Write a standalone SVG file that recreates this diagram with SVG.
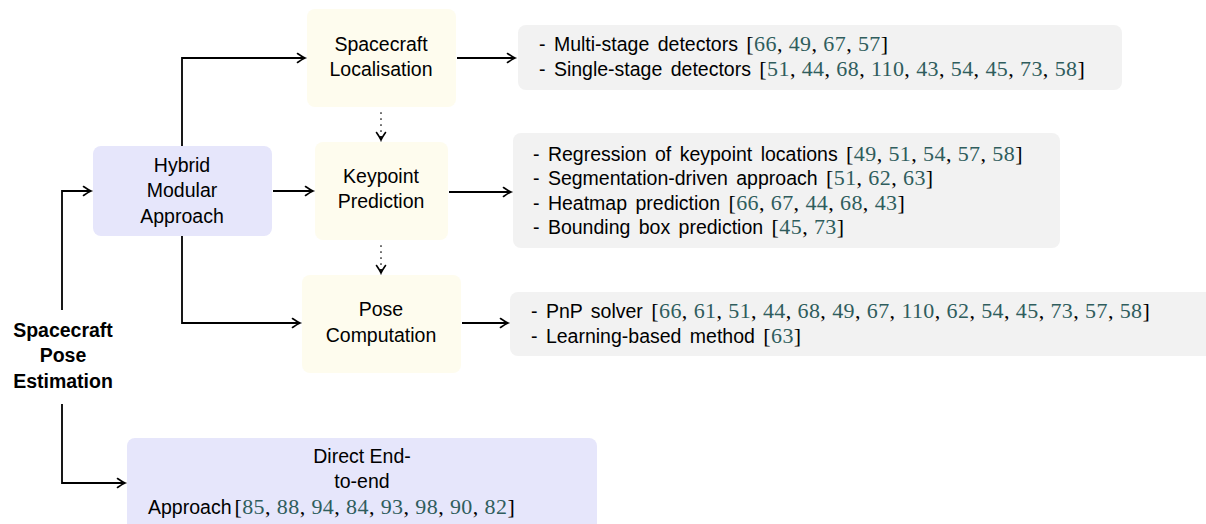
<svg xmlns="http://www.w3.org/2000/svg" width="1206" height="524" viewBox="0 0 1206 524">
  <style>
    .hyb { fill: #e6e6fb; }
    .stage { fill: #fefcee; }
    .list { fill: #f2f2f2; }
    .t { font-family: "Liberation Sans", Arial, sans-serif; font-size: 19.5px; fill: #000; }
    .li { word-spacing: 3px; }
    .tb { font-family: "Liberation Sans", Arial, sans-serif; font-size: 19.5px; font-weight: bold; fill: #000; }
    .c { font-family: "Liberation Serif", "Times New Roman", serif; font-size: 22px; letter-spacing: 0.4px; word-spacing: 0; fill: #000; }
    .n { fill: #2f5d5d; }
    .edge { fill: none; stroke: #000; stroke-width: 1.8; }
    .dot { fill: none; stroke: #000; stroke-width: 1.7; stroke-linecap: round; stroke-dasharray: 0 6; }
  </style>
  <defs>
    <marker id="arr" markerUnits="userSpaceOnUse" markerWidth="14" markerHeight="14" viewBox="-10 -7 14 14" refX="0" refY="0" orient="auto">
      <path d="M-7.5,-4.5 Q-2.5,-1 0,0 Q-2.5,1 -7.5,4.5" fill="none" stroke="#000" stroke-width="1.6" stroke-linecap="round"/>
    </marker>
  </defs>

  <rect width="1206" height="524" fill="#fff"/>

  <!-- connectors -->
  <g id="connectors">
    <path class="edge" d="M62,310 V191 H91" marker-end="url(#arr)"/>
    <path class="edge" d="M62,404 V483 H125" marker-end="url(#arr)"/>
    <path class="edge" d="M182,146 V58 H305" marker-end="url(#arr)"/>
    <path class="edge" d="M273,191 H313" marker-end="url(#arr)"/>
    <path class="edge" d="M182,236 V323 H300" marker-end="url(#arr)"/>
    <path class="edge" d="M457,58 H515" marker-end="url(#arr)"/>
    <path class="edge" d="M449,192 H511" marker-end="url(#arr)"/>
    <path class="edge" d="M462,323 H508" marker-end="url(#arr)"/>
    <path class="dot" d="M381,113 V136"/>
    <path class="edge" d="M381,136 V140" marker-end="url(#arr)"/>
    <path class="dot" d="M381,246 V269"/>
    <path class="edge" d="M381,269 V273" marker-end="url(#arr)"/>
  </g>

  <!-- root label -->
  <g id="root">
    <text class="tb" text-anchor="middle" x="63" y="337">Spacecraft</text>
    <text class="tb" text-anchor="middle" x="63" y="362">Pose</text>
    <text class="tb" text-anchor="middle" x="63" y="388">Estimation</text>
  </g>

  <g id="hybrid">
    <rect class="hyb" x="93" y="146" width="179" height="90" rx="8"/>
    <text class="t" text-anchor="middle" x="182" y="172">Hybrid</text>
    <text class="t" text-anchor="middle" x="182" y="197">Modular</text>
    <text class="t" text-anchor="middle" x="182" y="223">Approach</text>
  </g>

  <g id="localisation">
    <rect class="stage" x="307" y="9" width="149" height="98" rx="8"/>
    <text class="t" text-anchor="middle" x="381" y="51">Spacecraft</text>
    <text class="t" text-anchor="middle" x="381" y="76">Localisation</text>
  </g>

  <g id="keypoint">
    <rect class="stage" x="315" y="142" width="133" height="98" rx="8"/>
    <text class="t" text-anchor="middle" x="381" y="183">Keypoint</text>
    <text class="t" text-anchor="middle" x="381" y="208">Prediction</text>
  </g>

  <g id="pose">
    <rect class="stage" x="302" y="275" width="159" height="98" rx="8"/>
    <text class="t" text-anchor="middle" x="381" y="316">Pose</text>
    <text class="t" text-anchor="middle" x="381" y="342">Computation</text>
  </g>

  <g id="localisation-list">
    <rect class="list" x="518" y="25" width="604" height="65" rx="8"/>
    <text class="t li" x="539" y="51">- Multi-stage detectors <tspan class="c">[<tspan class="n">66</tspan>, <tspan class="n">49</tspan>, <tspan class="n">67</tspan>, <tspan class="n">57</tspan>]</tspan></text>
    <text class="t li" x="539" y="76">- Single-stage detectors <tspan class="c">[<tspan class="n">51</tspan>, <tspan class="n">44</tspan>, <tspan class="n">68</tspan>, <tspan class="n">110</tspan>, <tspan class="n">43</tspan>, <tspan class="n">54</tspan>, <tspan class="n">45</tspan>, <tspan class="n">73</tspan>, <tspan class="n">58</tspan>]</tspan></text>
  </g>

  <g id="keypoint-list">
    <rect class="list" x="513" y="133" width="547" height="115" rx="8"/>
    <text class="t li" x="533" y="161">- Regression of keypoint locations <tspan class="c">[<tspan class="n">49</tspan>, <tspan class="n">51</tspan>, <tspan class="n">54</tspan>, <tspan class="n">57</tspan>, <tspan class="n">58</tspan>]</tspan></text>
    <text class="t li" x="533" y="185">- Segmentation-driven approach <tspan class="c">[<tspan class="n">51</tspan>, <tspan class="n">62</tspan>, <tspan class="n">63</tspan>]</tspan></text>
    <text class="t li" x="533" y="210">- Heatmap prediction <tspan class="c">[<tspan class="n">66</tspan>, <tspan class="n">67</tspan>, <tspan class="n">44</tspan>, <tspan class="n">68</tspan>, <tspan class="n">43</tspan>]</tspan></text>
    <text class="t li" x="533" y="234">- Bounding box prediction <tspan class="c">[<tspan class="n">45</tspan>, <tspan class="n">73</tspan>]</tspan></text>
  </g>

  <g id="pose-list">
    <rect class="list" x="510" y="292" width="710" height="64" rx="8"/>
    <text class="t li" x="531" y="318">- PnP solver <tspan class="c">[<tspan class="n">66</tspan>, <tspan class="n">61</tspan>, <tspan class="n">51</tspan>, <tspan class="n">44</tspan>, <tspan class="n">68</tspan>, <tspan class="n">49</tspan>, <tspan class="n">67</tspan>, <tspan class="n">110</tspan>, <tspan class="n">62</tspan>, <tspan class="n">54</tspan>, <tspan class="n">45</tspan>, <tspan class="n">73</tspan>, <tspan class="n">57</tspan>, <tspan class="n">58</tspan>]</tspan></text>
    <text class="t li" x="531" y="343">- Learning-based method <tspan class="c">[<tspan class="n">63</tspan>]</tspan></text>
  </g>

  <g id="direct">
    <rect class="hyb" x="127" y="438" width="470" height="100" rx="8"/>
    <text class="t" text-anchor="middle" x="362" y="463">Direct End-</text>
    <text class="t" text-anchor="middle" x="362" y="488">to-end</text>
    <text class="t" x="148" y="514">Approach<tspan class="c" dx="3">[<tspan class="n">85</tspan>, <tspan class="n">88</tspan>, <tspan class="n">94</tspan>, <tspan class="n">84</tspan>, <tspan class="n">93</tspan>, <tspan class="n">98</tspan>, <tspan class="n">90</tspan>, <tspan class="n">82</tspan>]</tspan></text>
  </g>
</svg>
